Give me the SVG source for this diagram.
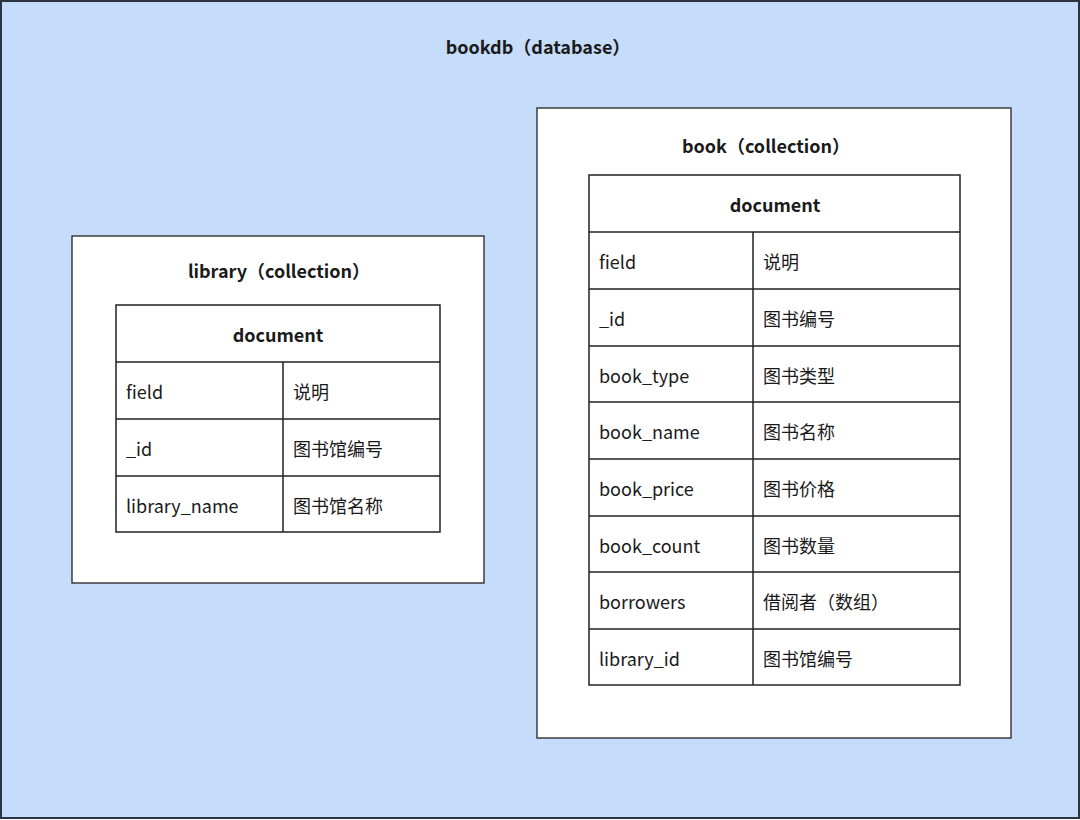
<svg xmlns="http://www.w3.org/2000/svg" width="1080" height="820" viewBox="0 0 1080 820">
<style>
.db{fill:#c5dcfb;stroke:#2b3440;stroke-width:2}
.box{fill:#ffffff;stroke:#222;stroke-width:1.3}
.ln{stroke:#222;stroke-width:1.5;fill:none}
text{font-family:"Noto Sans CJK SC","Noto Sans",sans-serif;font-size:18px;fill:#1a1a1a;dominant-baseline:central}
.t{font-weight:bold;text-anchor:middle}
</style>
<g id="bookdb">
<rect class="db" x="1" y="1" width="1078" height="817"/>
<text class="t" x="538" y="46">bookdb（database）</text>
</g>
<g id="library">
<rect class="box" x="72" y="236" width="412" height="347"/>
<text class="t" x="279" y="270">library（collection）</text>
<rect class="ln" x="116" y="305" width="324" height="227"/>
<path class="ln" d="M116 362H440M116 419H440M116 476H440M283 362V532"/>
<text class="t" x="278" y="334">document</text>
<text x="126" y="391">field</text><text x="293" y="391">说明</text>
<text x="126" y="448">_id</text><text x="293" y="448">图书馆编号</text>
<text x="126" y="505">library_name</text><text x="293" y="505">图书馆名称</text>
</g>
<g id="book">
<rect class="box" x="537" y="108" width="474" height="630"/>
<text class="t" x="766" y="145">book（collection）</text>
<rect class="ln" x="589" y="175" width="371" height="510"/>
<path class="ln" d="M589 232H960M589 289H960M589 346H960M589 402H960M589 459H960M589 516H960M589 572H960M589 629H960M753 232V685"/>
<text class="t" x="775" y="204">document</text>
<text x="599" y="261">field</text><text x="763" y="261">说明</text>
<text x="599" y="318">_id</text><text x="763" y="318">图书编号</text>
<text x="599" y="375">book_type</text><text x="763" y="375">图书类型</text>
<text x="599" y="431">book_name</text><text x="763" y="431">图书名称</text>
<text x="599" y="488">book_price</text><text x="763" y="488">图书价格</text>
<text x="599" y="545">book_count</text><text x="763" y="545">图书数量</text>
<text x="599" y="601">borrowers</text><text x="763" y="601">借阅者（数组）</text>
<text x="599" y="658">library_id</text><text x="763" y="658">图书馆编号</text>
</g>
<g id="connectors"></g>
</svg>
